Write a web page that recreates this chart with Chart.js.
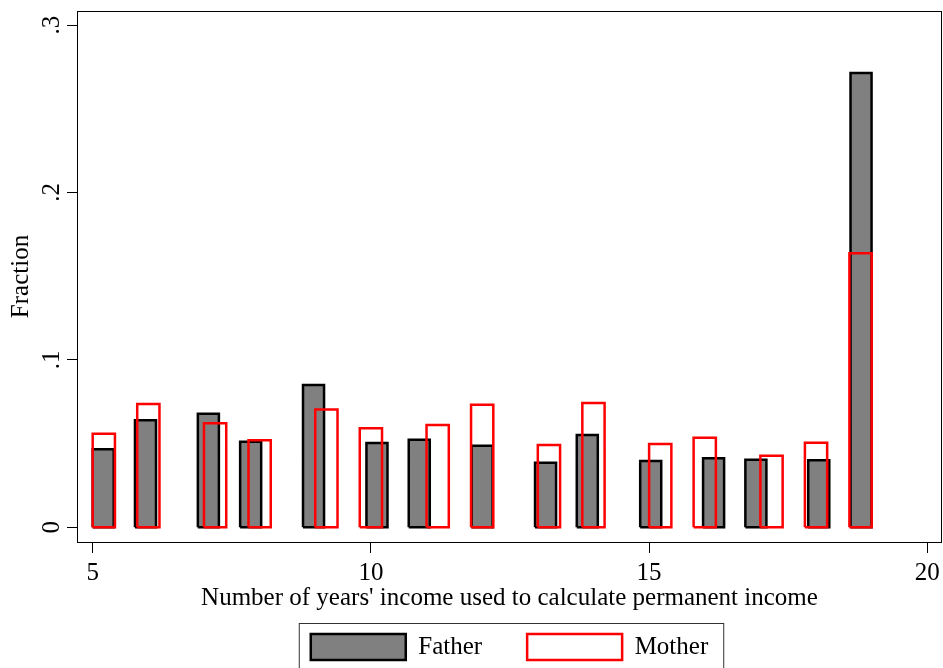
<!DOCTYPE html>
<html>
<head>
<meta charset="utf-8">
<script src="https://cdn.jsdelivr.net/npm/chart.js@4.4.1/dist/chart.umd.min.js"></script>
<style>
  html, body { margin: 0; padding: 0; background: #fff; }
  #wrap { width: 943px; height: 668px; position: relative; }
</style>
</head>
<body>
<div id="wrap"><canvas id="hist"></canvas></div>
<script>
"use strict";

// histogram bins: left edge of each bin and its fraction
const fatherStart = [5.00, 5.76, 6.89, 7.65, 8.78, 9.92, 10.68, 11.81, 12.95, 13.70, 14.84, 15.97, 16.73, 17.86, 18.62];
const fatherWidth = 0.378;
const fatherFrac = [0.0466, 0.0639, 0.0679, 0.0511, 0.0850, 0.0504, 0.0523, 0.0487, 0.0386, 0.0551, 0.0396, 0.0412, 0.0404, 0.0400, 0.2714];

const motherStart = [5.0, 5.8, 7.0, 7.8, 9.0, 9.8, 11.0, 11.8, 13.0, 13.8, 15.0, 15.8, 17.0, 17.8, 18.6];
const motherWidth = 0.4;
const motherFrac = [0.0559, 0.0737, 0.0621, 0.0520, 0.0703, 0.0591, 0.0611, 0.0732, 0.0492, 0.0743, 0.0498, 0.0535, 0.0428, 0.0505, 0.1637];

const xTicks = [5, 10, 15, 20];
const yTicks = [0, 0.1, 0.2, 0.3];

// each bin becomes an outline (bottom edge run twice so the fill spans x0..x1),
// bins separated by a null point
function binOutline(starts, width, fracs) {
  let pts = [];
  starts.forEach((x0, i) => {
    let x1 = x0 + width;
    pts.push({ x: x0, y: 0 }, { x: x0, y: fracs[i] }, { x: x1, y: fracs[i] }, { x: x1, y: 0 }, { x: x0, y: 0 }, { x: x1, y: 0 });
    pts.push({ x: x1, y: null });
  });
  return pts;
}

const frameBox = {
  id: 'frameBox',
  afterDraw(chart) {
    const { ctx, chartArea: a } = chart;
    ctx.save();
    ctx.strokeStyle = '#000';
    ctx.lineWidth = 1;
    ctx.strokeRect(a.left + 0.5, a.top + 0.5, a.right - a.left - 1, a.bottom - a.top);
    // legend frame
    const hb = chart.legend.legendHitBoxes;
    if (hb && hb.length) {
      const l = hb[0].left - 12;
      const r = hb[hb.length - 1].left + hb[hb.length - 1].width + 15;
      const t = hb[0].top - 11;
      ctx.strokeStyle = '#333';
      ctx.strokeRect(l + 0.5, t + 0.5, r - l, 80);
    }
    ctx.restore();
  }
};

Chart.defaults.font.family = "'Liberation Serif', 'Times New Roman', serif";
Chart.defaults.font.size = 25;
Chart.defaults.color = '#000';

new Chart(document.getElementById('hist'), {
  type: 'line',
  data: {
    datasets: [
      {
        label: 'Father',
        data: binOutline(fatherStart, fatherWidth, fatherFrac),
        borderColor: '#000',
        backgroundColor: '#808080',
        borderWidth: 2.5,
        fill: 'origin',
        order: 1
      },
      {
        label: 'Mother',
        data: binOutline(motherStart, motherWidth, motherFrac),
        borderColor: '#ff0000',
        backgroundColor: 'rgba(255,255,255,0)',
        borderWidth: 2.5,
        fill: false,
        order: 0
      }
    ]
  },
  options: {
    responsive: true,
    maintainAspectRatio: false,
    animation: false,
    spanGaps: false,
    elements: {
      line: { tension: 0, borderJoinStyle: 'miter' },
      point: { radius: 0, hitRadius: 0, hoverRadius: 0 }
    },
    layout: { padding: { left: 0, right: 1, top: 11, bottom: -2 } },
    plugins: {
      tooltip: { enabled: false },
      legend: {
        position: 'bottom',
        fullSize: false,
        labels: {
          boxWidth: 95,
          boxHeight: 26,
          padding: 45,
          font: { size: 25 },
          sort: (a, b) => a.datasetIndex - b.datasetIndex
        }
      }
    },
    scales: {
      x: {
        type: 'linear',
        min: 4.718,
        max: 20.264,
        afterBuildTicks: (s) => { s.ticks = xTicks.map(v => ({ value: v })); },
        afterFit: (s) => { s.height = 47; s.paddingLeft = 0; s.paddingRight = 0; },
        border: { display: false },
        grid: { display: true, drawOnChartArea: false, drawTicks: true, tickLength: 11, color: '#000', lineWidth: 1 },
        ticks: { padding: 5, maxRotation: 0, autoSkip: false, font: { size: 25 } },
        title: {
          display: true,
          text: "Number of years' income used to calculate permanent income",
          font: { size: 25 },
          padding: { top: 0, bottom: -24 }
        }
      },
      y: {
        type: 'linear',
        min: -0.00878,
        max: 0.3084,
        afterBuildTicks: (s) => { s.ticks = yTicks.map(v => ({ value: v })); },
        afterFit: (s) => { s.width = 77; s.paddingTop = 0; s.paddingBottom = 0; },
        border: { display: false },
        grid: { display: true, drawOnChartArea: false, drawTicks: true, tickLength: 10, color: '#000', lineWidth: 1 },
        ticks: {
          minRotation: 90,
          maxRotation: 90,
          crossAlign: 'center',
          padding: 5,
          autoSkip: false,
          font: { size: 25 },
          callback: (v) => v === 0 ? '0' : String(v).replace(/^0/, '')
        },
        title: { display: true, text: 'Fraction', font: { size: 25 }, padding: { top: 6, bottom: 0 } }
      }
    }
  },
  plugins: [frameBox]
});
</script>
</body>
</html>
